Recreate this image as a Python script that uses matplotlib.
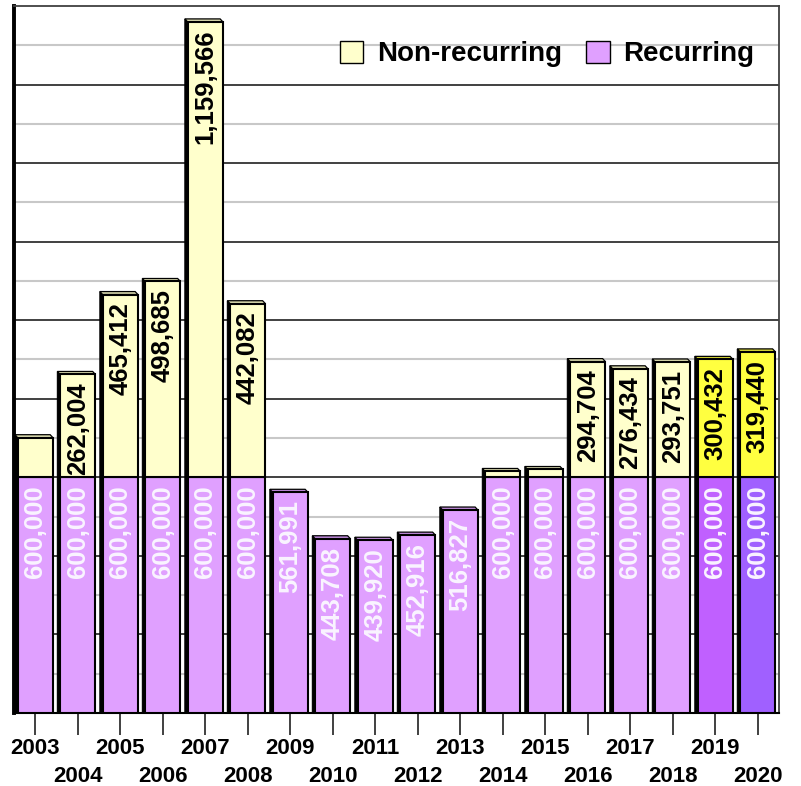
import matplotlib
matplotlib.use("Agg")
import matplotlib.pyplot as plt
from matplotlib.patches import Rectangle, Polygon
from matplotlib.colors import to_rgb

# ---- data ----
years = [str(y) for y in range(2003, 2021)]
recurring = [600000, 600000, 600000, 600000, 600000, 600000, 561991, 443708,
             439920, 452916, 516827, 600000, 600000, 600000, 600000, 600000,
             600000, 600000]
non_recurring = [101000, 262004, 465412, 498685, 1159566, 442082, 0, 0, 0, 0,
                 0, 15000, 20000, 294704, 276434, 293751, 300432, 319440]

# ---- style ----
rec_colors = ["#E0A0FF"] * 16 + ["#C060FF", "#A060FF"]
non_colors = ["#FFFFCC"] * 16 + ["#FFFF40", "#FFFF40"]
label_min = 150000          # segments smaller than this stay unlabeled
font = "Liberation Sans"

plt.rcParams["font.family"] = [font, "DejaVu Sans"]
plt.rcParams["font.weight"] = "bold"

fig = plt.figure(figsize=(8.01, 7.86), dpi=100)
ax = fig.add_axes([0.0175, 0.0929, 0.955, 0.8995])

ymax = 1800000
ax.set_xlim(-0.5, len(years) - 0.5)
ax.set_ylim(0, ymax)

# gridlines: dark every 200k, light in between
for v in range(100000, ymax, 100000):
    if v % 200000 == 0:
        ax.axhline(v, color="#202020", lw=1.2, zorder=0)
    else:
        ax.axhline(v, color="#C8C8C8", lw=1.5, zorder=0)

width = 0.83
dx = -0.065   # depth offset of the 3-D faces (x, data units)
dy = 7500     # depth offset of the 3-D faces (y, data units)


def shade(c, f):
    r, g, b = to_rgb(c)
    return (r * f, g * f, b * f)


for i in range(len(years)):
    x0 = i - width / 2
    x1 = i + width / 2
    r = recurring[i]
    n = non_recurring[i]
    top = r + n
    top_color = non_colors[i] if n > 0 else rec_colors[i]

    # left side face
    side = Polygon([(x0, 0), (x0, top), (x0 + dx, top + dy), (x0 + dx, 0)],
                   closed=True, fc="black", ec="black", lw=0.8, zorder=2)
    ax.add_patch(side)
    # top face
    tface = Polygon([(x0, top), (x1, top), (x1 + dx, top + dy), (x0 + dx, top + dy)],
                    closed=True, fc=shade(top_color, 0.85), ec="black", lw=0.9,
                    zorder=2)
    ax.add_patch(tface)

    # front faces (stacked)
    ax.bar(i, r, width=width, bottom=0, color=rec_colors[i], edgecolor="black",
           linewidth=1.5, zorder=3)
    if n > 0:
        ax.bar(i, n, width=width, bottom=r, color=non_colors[i],
               edgecolor="black", linewidth=1.5, zorder=3)

    pad = 20000
    ax.text(i, r - pad, f"{r:,}", rotation=90, ha="center", va="top",
            color="#FAF4FF", fontsize=18.5, fontweight="bold", zorder=4)
    if n >= label_min:
        ax.text(i, top - pad, f"{n:,}", rotation=90, ha="center", va="top",
                color="black", fontsize=18.5, fontweight="bold", zorder=4)

# x axis: two staggered rows of year labels (major = first row, minor = second)
major_pos = list(range(0, len(years), 2))
minor_pos = list(range(1, len(years), 2))
ax.set_xticks(major_pos)
ax.set_xticklabels([years[k] for k in major_pos], fontsize=16, fontweight="bold")
ax.set_xticks(minor_pos, minor=True)
ax.set_xticklabels([years[k] for k in minor_pos], minor=True, fontsize=16,
                   fontweight="bold")
ax.tick_params(axis="x", which="major", length=16, width=1.2, pad=2,
               color="#202020")
ax.tick_params(axis="x", which="minor", length=16, width=1.2, pad=22,
               color="#202020")
ax.set_yticks([])

ax.spines["left"].set_linewidth(2.8)
ax.spines["left"].set_color("black")
ax.spines["bottom"].set_linewidth(1.5)
ax.spines["bottom"].set_color("black")
for s in ("top", "right"):
    ax.spines[s].set_linewidth(1.3)
    ax.spines[s].set_color("#404040")

# legend
handles = [Rectangle((0, 0), 1, 1, fc=non_colors[0], ec="black", lw=1.0),
           Rectangle((0, 0), 1, 1, fc=rec_colors[0], ec="black", lw=1.0)]
ax.legend(handles, ["Non-recurring", "Recurring"], loc="upper right",
          bbox_to_anchor=(0.968, 0.951), ncol=2, frameon=False,
          prop={"family": font, "weight": "bold", "size": 20},
          handlelength=0.85, handleheight=0.85, handletextpad=0.5,
          columnspacing=0.85, borderaxespad=0, borderpad=0)

fig.savefig("out.png", dpi=100)
